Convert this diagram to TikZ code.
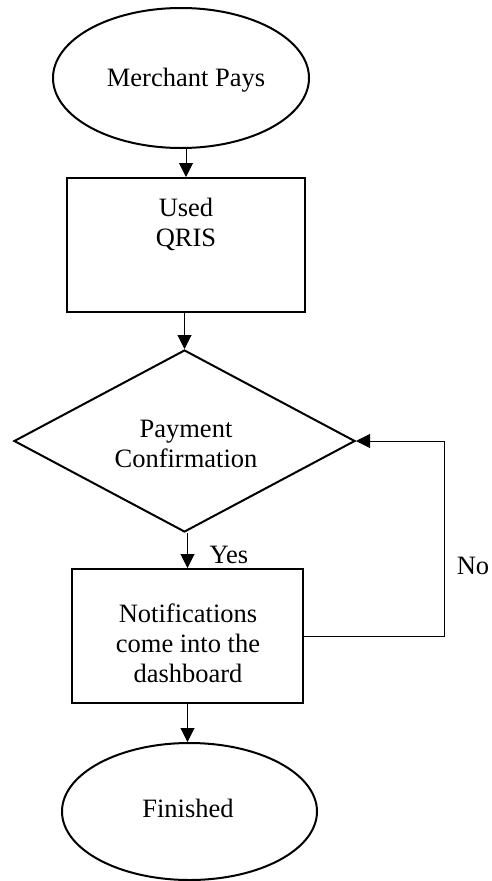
\documentclass[tikz,border=0pt]{standalone}
\usepackage{fontspec}
\setmainfont{Liberation Serif}
\usetikzlibrary{shapes.geometric,arrows.meta}

\tikzset{
  shapeline/.style={draw=black, line width=2pt, inner sep=0pt},
  terminal/.style={shapeline, ellipse},
  process/.style={shapeline, rectangle},
  decision/.style={shapeline, diamond},
  lbl/.style={font=\fontsize{26.5pt}{30pt}\selectfont, align=center, inner sep=0pt},
  flow/.style={line width=1pt, -{Triangle[length=14pt,width=14pt]}}
}

\begin{document}
\begin{tikzpicture}[x=1pt, y=-1pt]
  \useasboundingbox (0,0) rectangle (491,881);

  % shapes
  \node[terminal, minimum width=256pt, minimum height=140pt] (start) at (181,78) {};
  \node[process, minimum width=238pt, minimum height=134pt] (qris) at (186,245) {};
  \node[decision, minimum width=341pt, minimum height=182pt] (pay) at (184.5,441) {};
  \node[process, minimum width=231pt, minimum height=134pt] (notif) at (187.5,636) {};
  \node[terminal, minimum width=255pt, minimum height=137pt] (finish) at (189.5,811.5) {};

  % texts
  \node[lbl] (starttxt) at (186,80) {Merchant Pays};
  \node[lbl] (qristxt) at (186,224) {Used\\QRIS};
  \node[lbl] (paytxt) at (186,444) {Payment\\Confirmation};
  \node[lbl] (notiftxt) at (188,643) {Notifications\\come into the\\dashboard};
  \node[lbl] (finishtxt) at (188,808) {Finished};
  \node[lbl] (yes) at (229,555) {Yes};
  \node[lbl] (no) at (473,566) {No};

  % connectors
  \draw[flow] (qris.north |- start.south) -- (qris.north);
  \draw[flow] (pay.north |- qris.south) -- (pay.north);
  \draw[flow] (notif.north |- pay.south) -- (notif.north);
  \draw[flow] (notif.south) -- (notif.south |- finish.north);

  % "No" branch back to the decision
  \coordinate (loop) at (444,636);
  \draw[flow] (notif.east) -- (loop) |- (pay.east);
\end{tikzpicture}
\end{document}
